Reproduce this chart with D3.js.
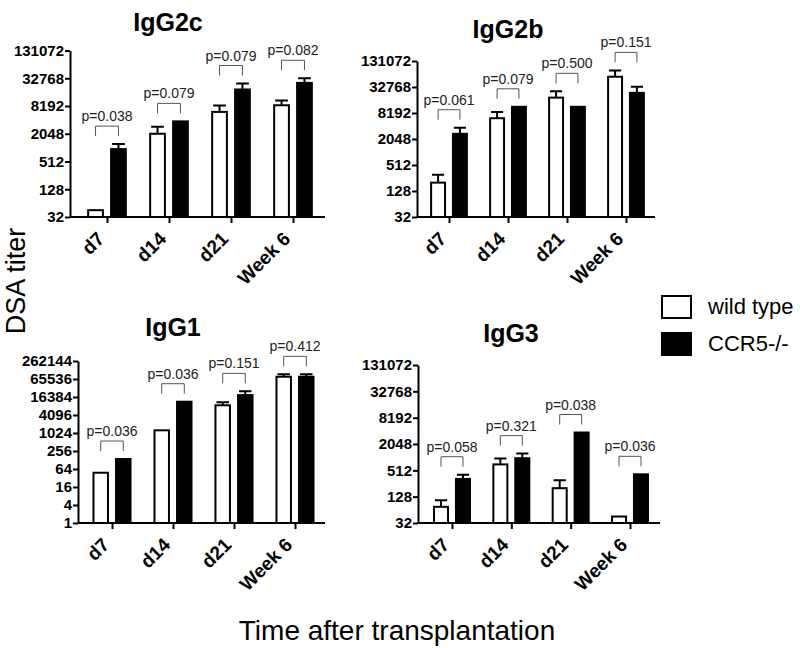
<!DOCTYPE html>
<html>
<head>
<meta charset="utf-8">
<script src="https://cdnjs.cloudflare.com/ajax/libs/d3/7.8.5/d3.min.js"></script>
<style>
body { margin: 0; background: #fff; }
text { font-family: Arial, "Liberation Sans", sans-serif; }
</style>
</head>
<body>
<svg width="800" height="648"></svg>
<script>
var svg = d3.select("svg");

// categories and groups
var times = ["d7", "d14", "d21", "Week 6"];
var groups = ["wild type", "CCR5-/-"];

// DSA titers (mean and top of error bar, null = no bar)
var igg2cWT = [45, 2048, 6100, 8500];
var igg2cKO = [950, 3800, 18700, 26000];
var igg2cWTErr = [null, 2900, 8420, 10800];
var igg2cKOErr = [1220, null, 25200, 32768];
var igg2cP = ["0.038", "0.079", "0.079", "0.082"];

var igg2bWT = [200, 6200, 18600, 56600];
var igg2bKO = [2700, 11400, 11400, 24000];
var igg2bWTErr = [304, 8650, 26000, 79500];
var igg2bKOErr = [3740, null, null, 33200];
var igg2bP = ["0.061", "0.079", "0.500", "0.151"];

var igg1WT = [48, 1260, 8650, 78000];
var igg1KO = [138, 11400, 19000, 78000];
var igg1WTErr = [null, null, 10900, 93900];
var igg1KOErr = [null, null, 25300, 93900];
var igg1P = ["0.036", "0.036", "0.151", "0.412"];

var igg3WT = [75, 700, 200, 45];
var igg3KO = [325, 970, 3750, 415];
var igg3WTErr = [106, 950, 304, null];
var igg3KOErr = [407, 1235, null, null];
var igg3P = ["0.058", "0.321", "0.038", "0.036"];

var ticks32 = [32, 128, 512, 2048, 8192, 32768, 131072];
var ticks1 = [1, 4, 16, 64, 256, 1024, 4096, 16384, 65536, 262144];

var panels = [
  {title: "IgG2c", wt: igg2cWT, ko: igg2cKO, wtErr: igg2cWTErr, koErr: igg2cKOErr, p: igg2cP, ticks: ticks32,
   ax: 70, axEnd: 325, c0: 107, c1: 293, yTop: 50.5, yBot: 217, tx: 168, ty: 31},
  {title: "IgG2b", wt: igg2bWT, ko: igg2bKO, wtErr: igg2bWTErr, koErr: igg2bKOErr, p: igg2bP, ticks: ticks32,
   ax: 417, axEnd: 655, c0: 449, c1: 626, yTop: 61, yBot: 217, tx: 508, ty: 38},
  {title: "IgG1", wt: igg1WT, ko: igg1KO, wtErr: igg1WTErr, koErr: igg1KOErr, p: igg1P, ticks: ticks1,
   ax: 78, axEnd: 325, c0: 112, c1: 295, yTop: 361, yBot: 523, tx: 173, ty: 336},
  {title: "IgG3", wt: igg3WT, ko: igg3KO, wtErr: igg3WTErr, koErr: igg3KOErr, p: igg3P, ticks: ticks32,
   ax: 418, axEnd: 660, c0: 452, c1: 630, yTop: 365, yBot: 523, tx: 511, ty: 342}
];

panels.forEach(drawPanel);

function drawPanel(pn) {
  var g = svg.append("g");
  var y = d3.scaleLog().base(2)
      .domain([pn.ticks[0], pn.ticks[pn.ticks.length - 1]])
      .range([pn.yBot, pn.yTop]);
  var x = d3.scalePoint().domain(times).range([pn.c0, pn.c1]);
  var step = x.step();
  var x1 = d3.scaleBand().domain(groups)
      .range([-0.32 * step, 0.32 * step]).paddingInner(0.27);
  var bw = x1.bandwidth();

  g.append("text")
      .attr("x", pn.tx).attr("y", pn.ty)
      .attr("text-anchor", "middle")
      .attr("font-size", 25).attr("font-weight", "bold")
      .text(pn.title);

  var rows = times.map(function(t, i) {
    return [
      {t: t, grp: groups[0], v: pn.wt[i], e: pn.wtErr[i]},
      {t: t, grp: groups[1], v: pn.ko[i], e: pn.koErr[i]}
    ];
  });

  var bars = g.selectAll(".grp").data(rows).enter().append("g");

  // error bars (upper only)
  bars.selectAll(".err").data(function(d) { return d.filter(function(b) { return b.e; }); })
    .enter().append("path")
      .attr("d", function(d) {
        var cx = x(d.t) + x1(d.grp) + bw / 2;
        var cw = bw * 0.38;
        return "M" + cx + "," + y(d.v) + "V" + y(d.e) + "M" + (cx - cw) + "," + y(d.e) + "H" + (cx + cw);
      })
      .attr("stroke", "#000").attr("stroke-width", 2).attr("fill", "none");

  bars.selectAll("rect").data(function(d) { return d; })
    .enter().append("rect")
      .attr("x", function(d) { return x(d.t) + x1(d.grp) + 1; })
      .attr("width", bw - 2)
      .attr("y", function(d) { return y(d.v); })
      .attr("height", function(d) { return pn.yBot - y(d.v); })
      .attr("fill", function(d) { return d.grp == groups[0] ? "#fff" : "#000"; })
      .attr("stroke", "#000").attr("stroke-width", 2);

  // p-value brackets
  rows.forEach(function(r, i) {
    var top = d3.max(r, function(b) { return b.e || b.v; });
    var yb = y(top) - 8;
    var xa = x(r[0].t) + x1(groups[0]) + bw / 2;
    var xb = x(r[1].t) + x1(groups[1]) + bw / 2;
    g.append("path")
        .attr("d", "M" + xa + "," + yb + "V" + (yb - 10) + "H" + xb + "V" + yb)
        .attr("fill", "none").attr("stroke", "#555").attr("stroke-width", 1);
    g.append("text")
        .attr("x", (xa + xb) / 2).attr("y", yb - 15)
        .attr("text-anchor", "middle")
        .attr("font-size", 14).attr("fill", "#222")
        .text("p=" + pn.p[i]);
  });

  // y axis
  var ya = g.append("g")
      .attr("transform", "translate(" + pn.ax + ",0)")
      .call(d3.axisLeft(y).tickValues(pn.ticks).tickFormat(d3.format("d"))
        .tickSize(5).tickSizeOuter(0).tickPadding(1));
  ya.select(".domain").attr("stroke-width", 2);
  ya.selectAll(".tick line").attr("stroke-width", 2);
  ya.selectAll(".tick text").attr("font-size", 15).attr("font-weight", "bold")
      .attr("font-family", "Arial, 'Liberation Sans', sans-serif").attr("fill", "#000");

  // x axis
  var xa = g.append("g")
      .attr("transform", "translate(0," + pn.yBot + ")")
      .call(d3.axisBottom(x).tickSize(6).tickSizeOuter(0));
  xa.select(".domain").remove();
  xa.append("line").attr("x1", pn.ax).attr("x2", pn.axEnd)
      .attr("stroke", "#000").attr("stroke-width", 2);
  xa.selectAll(".tick line").attr("stroke-width", 2);
  xa.selectAll(".tick text")
      .attr("font-size", 19).attr("font-weight", "bold")
      .attr("font-family", "Arial, 'Liberation Sans', sans-serif").attr("fill", "#000")
      .attr("text-anchor", "end")
      .attr("dy", null).attr("y", null)
      .attr("transform", "translate(-2,23) rotate(-45)");
}

// shared axis titles
svg.append("text")
    .attr("transform", "translate(25,281) rotate(-90)")
    .attr("text-anchor", "middle")
    .attr("font-size", 27)
    .text("DSA titer");

svg.append("text")
    .attr("x", 397).attr("y", 640)
    .attr("text-anchor", "middle")
    .attr("font-size", 28)
    .text("Time after transplantation");

// legend
var legend = svg.append("g").selectAll("g").data(groups).enter().append("g")
    .attr("transform", function(d, i) { return "translate(662," + (296 + i * 37) + ")"; });
legend.append("rect")
    .attr("width", 29).attr("height", 22)
    .attr("fill", function(d, i) { return i == 0 ? "#fff" : "#000"; })
    .attr("stroke", "#000").attr("stroke-width", 2);
legend.append("text")
    .attr("x", 46).attr("y", 18)
    .attr("font-size", 22)
    .text(function(d) { return d; });
</script>
</body>
</html>
